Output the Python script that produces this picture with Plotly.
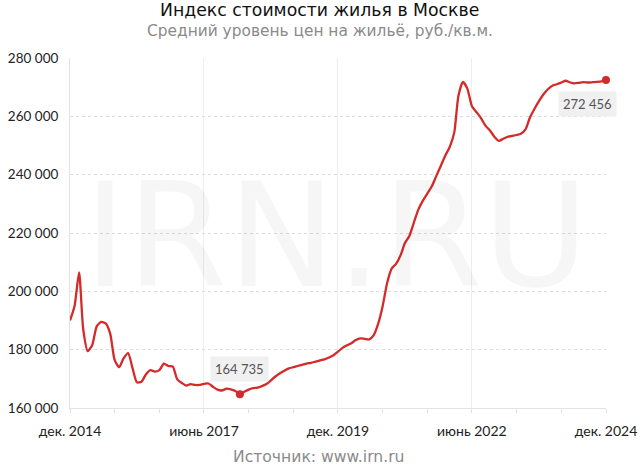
import pandas as pd
import plotly.graph_objects as go

# Monthly index values, Dec 2014 .. Dec 2024 (rub / sq.m)
months = pd.date_range("2014-12-01", "2024-12-01", freq="MS")
prices = [
    190000, 195000, 206500, 187000, 179500, 181500, 188000, 189500, 189000, 185500,
    176500, 174000, 177000, 178800, 173500, 168800, 169000, 171500, 173000, 172500,
    173000, 175200, 174400, 174200, 169800, 168600, 167700, 168200, 167900, 167900,
    168300, 168400, 167300, 166300, 166000, 166600, 166400, 165800, 164735, 165500,
    166300, 166800, 167000, 167500, 168200, 169500, 170800, 171900, 172800, 173600,
    174000, 174400, 174800, 175200, 175500, 175900, 176300, 176700, 177300, 178100,
    179300, 180600, 181500, 182200, 183300, 183900, 183700, 183500, 185000, 189000,
    195000, 203000, 207800, 209500, 212500, 216500, 219000, 223500, 228000, 231000,
    233500, 236000, 239500, 243000, 246500, 249500, 254500, 267000, 271800, 269500,
    263500, 261500, 259500, 256800, 255200, 253000, 251600, 252300, 253000, 253300,
    253600, 254000, 255500, 259500, 262500, 265200, 267500, 269300, 270500, 271000,
    271600, 272200, 271600, 271300, 271500, 271700, 271600, 271700, 271800, 272000,
    272456,
]

x_tick_vals = ["2014-12-01", "2017-06-01", "2019-12-01", "2022-06-01", "2024-12-01"]
x_tick_text = ["дек. 2014", "июнь 2017", "дек. 2019", "июнь 2022", "дек. 2024"]
y_tick_vals = [160000, 180000, 200000, 220000, 240000, 260000, 280000]
y_tick_text = ["160 000", "180 000", "200 000", "220 000", "240 000", "260 000", "280 000"]

title = "Индекс стоимости жилья в Москве"
subtitle = "Средний уровень цен на жильё, руб./кв.м."
source = "Источник: www.irn.ru"

RED = "#d42a2a"

imin = prices.index(min(prices))
ilast = len(prices) - 1

fig = go.Figure()
fig.add_trace(go.Scatter(
    x=months, y=prices, mode="lines",
    line=dict(color=RED, width=2.3, shape="spline", smoothing=0.6),
    hoverinfo="skip", showlegend=False, cliponaxis=False,
))
fig.add_trace(go.Scatter(
    x=[months[imin], months[ilast]], y=[prices[imin], prices[ilast]],
    mode="markers", marker=dict(color=RED, size=8),
    hoverinfo="skip", showlegend=False, cliponaxis=False,
))

def fmt(v):
    return f"{v:,}".replace(",", " ")

annotations = [
    dict(text="IRN.RU", xref="paper", yref="paper", x=0.498, y=0.494,
         xanchor="center", yanchor="middle",
         showarrow=False, font=dict(family="DejaVu Sans", size=145, color="rgba(0,0,0,0.035)")),
    dict(text=title, xref="paper", yref="paper", x=0.466, y=1.137, showarrow=False,
         xanchor="center", yanchor="middle",
         font=dict(family="DejaVu Sans", size=17.3, color="#111")),
    dict(text=subtitle, xref="paper", yref="paper", x=0.466, y=1.077, showarrow=False,
         xanchor="center", yanchor="middle",
         font=dict(family="DejaVu Sans", size=15.4, color="#8a8a8a")),
    dict(text=source, xref="paper", yref="paper", x=0.4627, y=-0.14, showarrow=False,
         xanchor="center", yanchor="middle",
         font=dict(family="DejaVu Sans", size=15.6, color="#8a8a8a")),
    dict(text=fmt(prices[imin]), x=months[imin], y=prices[imin], showarrow=False,
         yshift=25, bgcolor="#f0f0f0", borderpad=4,
         font=dict(family="Lato", size=13, color="#555")),
    dict(text=fmt(prices[ilast]), x=months[ilast], y=prices[ilast], showarrow=False,
         xshift=-19, yshift=-24, bgcolor="#f0f0f0", borderpad=4,
         font=dict(family="Lato", size=13, color="#555")),
]

fig.update_layout(
    width=640, height=466,
    margin=dict(l=70, r=34, t=58, b=58, autoexpand=False),
    paper_bgcolor="white", plot_bgcolor="white",
    annotations=annotations,
    font=dict(family="Lato", size=13, color="#222"),
    xaxis=dict(
        type="date",
        range=["2014-12-01", "2024-12-01"],
        tickvals=x_tick_vals, ticktext=x_tick_text,
        showgrid=True, gridcolor="#eeeeee", gridwidth=1,
        showline=True, linecolor="#e3e3e3", linewidth=1,
        ticks="", ticklabelstandoff=10, automargin=False,
        minor=dict(dtick="M10", tick0="2014-12-01", ticks="outside", ticklen=4,
                   tickcolor="#e3e3e3", showgrid=False),
        tickfont=dict(family="Lato", size=14, color="#222"),
        zeroline=False, fixedrange=True,
    ),
    yaxis=dict(
        range=[160000, 280000],
        tickvals=y_tick_vals, ticktext=y_tick_text,
        showgrid=True, gridcolor="#dddddd", griddash="dot", gridwidth=1,
        showline=True, linecolor="#e3e3e3", linewidth=1,
        ticks="", ticklabelstandoff=8, automargin=False,
        tickfont=dict(family="Lato", size=13.5, color="#222"),
        zeroline=False, fixedrange=True,
    ),
)

fig.write_html("out.html", config={"displayModeBar": False},
               post_script="document.body.style.margin='0';")
